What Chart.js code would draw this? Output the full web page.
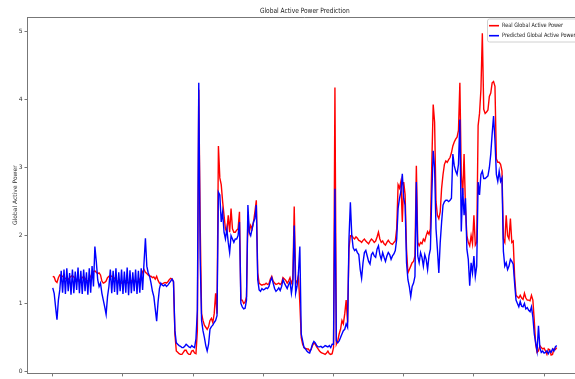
<!DOCTYPE html>
<html>
<head>
<meta charset="utf-8">
<title>Global Active Power Prediction</title>
<script src="https://cdn.jsdelivr.net/npm/chart.js@4.4.0/dist/chart.umd.min.js"></script>
<style>
html,body{margin:0;padding:0;background:#fff;overflow:hidden;}
#wrap{width:600px;height:379px;}
</style>
</head>
<body>
<div id="wrap"><canvas id="power-chart" width="600" height="379"></canvas></div>
<script>
/* ═══════════════════════════════════
   DATA (every 2nd sample of the test window)
═══════════════════════════════════ */
var sampleStep = 2;

var realPower = [
  1.40,1.39,1.33,1.31,1.38,1.42,1.41,1.40,1.38,1.37,
  1.36,1.35,1.38,1.40,1.41,1.39,1.37,1.35,1.33,1.34,
  1.36,1.38,1.40,1.37,1.34,1.33,1.36,1.40,1.44,1.47,
  1.48,1.46,1.44,1.45,1.42,1.33,1.30,1.31,1.33,1.38,
  1.40,1.41,1.40,1.39,1.37,1.35,1.33,1.31,1.30,1.30,
  1.32,1.34,1.33,1.31,1.30,1.31,1.33,1.35,1.34,1.32,
  1.31,1.33,1.36,1.40,1.47,1.50,1.46,1.44,1.42,1.40,
  1.40,1.38,1.39,1.36,1.40,1.34,1.30,1.28,1.29,1.30,
  1.31,1.30,1.32,1.35,1.37,1.36,1.32,
  0.55,0.30,0.28,0.26,0.25,0.25,0.28,0.31,0.31,0.27,0.25,0.25,0.30,0.31,0.27,0.26,
  0.60,4.15,2.20,0.85,0.75,0.68,0.65,0.62,0.66,0.75,0.78,0.72,0.85,1.15,0.85,3.32,
  2.85,2.75,2.50,2.30,2.10,2.05,2.30,2.05,2.40,2.10,2.05,2.05,2.08,2.10,2.35,
  1.05,1.05,1.00,1.02,1.10,2.30,2.05,2.15,2.10,2.20,2.35,2.52,1.45,
  1.30,1.28,1.27,1.28,1.28,1.30,1.28,1.29,1.36,1.40,1.33,1.30,1.28,1.29,1.30,1.28,
  1.30,1.38,1.36,1.34,1.30,1.33,1.38,1.30,1.35,
  2.43,1.35,1.30,1.40,1.00,0.50,
  0.40,0.35,0.34,0.33,0.33,0.30,0.32,0.38,0.42,0.40,0.36,0.33,0.30,0.28,0.27,0.26,
  0.25,0.27,0.30,0.26,0.25,0.26,
  0.35,4.18,0.40,0.45,0.55,0.62,0.75,0.70,0.85,1.05,0.72,1.81,2.00,
  2.00,1.97,1.95,1.98,1.96,1.93,1.92,1.90,1.93,1.95,1.92,1.90,1.88,1.92,1.95,1.93,
  1.90,1.92,1.98,2.05,1.95,1.90,1.92,1.88,1.86,1.90,1.93,1.90,1.88,1.87,1.90,1.92,
  2.10,2.75,2.70,2.80,2.20,2.79,2.60,1.80,1.45,1.50,1.55,1.60,1.62,1.70,3.03,1.90,
  1.85,1.90,1.88,1.95,1.92,2.00,2.06,2.02,
  2.10,3.05,3.93,3.67,2.50,2.30,2.25,2.35,2.70,
  2.90,3.05,3.10,3.08,3.12,3.15,3.22,
  3.32,3.38,3.42,3.45,3.55,4.25,2.90,2.60,3.20,2.40,2.00,1.90,
  1.85,2.00,1.88,2.30,1.86,1.90,
  3.62,3.80,4.15,4.98,3.86,3.80,3.82,3.85,4.05,4.10,4.25,4.27,4.20,3.13,3.08,3.08,
  3.05,2.95,1.95,
  1.90,2.30,2.00,1.95,2.25,1.90,1.92,
  1.40,1.12,
  1.10,1.08,1.12,1.08,1.06,1.15,1.08,1.05,1.05,1.04,1.12,1.05,
  0.75,0.40,0.28,0.30,0.38,
  0.35,0.33,0.34,0.30,0.25,0.33,0.32,0.24,0.25,0.33,0.32,0.35
];

var predictedPower = [
  1.23,1.15,0.95,0.76,1.05,1.20,
  1.48,1.16,1.50,1.14,1.52,1.18,1.45,1.13,1.50,1.15,1.47,1.20,
  1.53,1.15,1.48,1.14,1.50,1.18,1.46,1.13,1.52,1.16,1.55,1.25,
  1.84,1.62,1.35,1.25,1.30,1.15,1.05,0.95,0.84,1.10,1.25,
  1.50,1.15,1.48,1.17,1.52,1.13,1.46,1.18,1.50,1.14,1.47,1.16,1.53,
  1.12,1.49,1.15,1.46,1.18,1.50,1.14,1.48,1.16,1.52,1.20,1.60,
  1.96,1.55,1.45,1.40,1.30,1.18,1.10,0.92,0.74,1.02,1.22,
  1.30,1.27,1.26,1.28,1.25,1.27,1.30,1.33,1.36,1.32,
  0.60,0.42,0.40,0.38,0.37,0.35,0.35,0.37,0.40,0.38,0.36,0.35,0.38,0.36,0.35,0.48,
  0.90,4.25,1.67,0.75,0.60,0.50,0.38,0.30,0.40,0.62,0.66,0.68,0.72,0.75,0.82,2.64,
  2.60,2.20,2.35,2.05,1.95,2.10,1.90,1.75,2.00,1.95,1.90,1.95,1.95,2.00,2.20,
  1.00,0.95,0.92,0.93,1.05,2.45,2.05,2.00,2.10,2.20,2.25,2.45,1.35,
  1.20,1.18,1.22,1.20,1.21,1.23,1.22,1.25,1.33,1.38,1.30,1.22,1.18,1.20,1.23,1.19,
  1.25,1.35,1.30,1.26,1.22,1.28,1.32,1.15,1.30,
  2.15,1.15,1.25,1.45,1.84,0.55,
  0.45,0.35,0.33,0.30,0.28,0.27,0.33,0.40,0.44,0.42,0.38,0.36,0.36,0.37,0.35,0.36,
  0.38,0.37,0.36,0.38,0.35,0.40,
  0.40,2.69,0.45,0.42,0.45,0.50,0.55,0.60,0.62,0.70,0.65,1.95,2.49,
  2.00,1.82,1.78,1.80,1.75,1.72,1.50,1.37,1.60,1.75,1.78,1.70,1.62,1.58,1.72,1.75,
  1.70,1.68,1.80,1.85,1.72,1.65,1.75,1.68,1.62,1.70,1.75,1.72,1.65,1.70,1.73,1.78,
  1.95,2.40,2.55,2.65,2.91,2.55,2.45,1.60,1.35,1.25,1.10,1.25,1.30,1.40,2.79,1.70,
  1.60,1.75,1.68,1.55,1.72,1.65,1.50,1.70,
  1.80,2.60,3.25,3.00,2.10,1.80,1.45,1.90,2.20,
  2.45,2.50,2.52,2.52,2.50,2.52,2.55,
  3.20,3.03,2.95,2.90,3.05,3.71,2.06,2.70,2.30,2.55,1.80,1.65,
  1.26,1.60,1.45,1.70,1.40,1.55,
  2.79,2.60,2.90,2.95,2.84,2.84,2.86,2.88,3.00,3.20,3.50,3.76,3.40,2.90,2.80,2.95,
  2.80,2.85,1.77,
  1.55,1.60,1.50,1.55,1.65,1.62,1.58,
  1.30,1.05,
  1.00,0.95,1.03,0.96,0.95,1.00,0.92,0.94,0.90,0.88,0.95,0.80,
  0.55,0.42,0.30,0.67,0.35,
  0.28,0.30,0.27,0.28,0.30,0.26,0.30,0.28,0.33,0.30,0.36,0.38
];

var xTickValues = [0,100,200,300,400,500,600,700];
var yTickValues = [0,1,2,3,4,5];
var yTickLabels = ['0','1','2','3','4','5'];

var chartTitle = 'Global Active Power Prediction';
var yAxisTitle = 'Global Active Power';
var seriesNames = ['Real Global Active Power','Predicted Global Active Power'];
var seriesColors = ['#ff0000','#0000ff'];

/* ═══════════════════════════════════
   CHART
═══════════════════════════════════ */

// the source picture is a little squeezed sideways, text too
var textSqueeze = 0.82;
var fontFamily = '"DejaVu Sans", sans-serif';

document.addEventListener('DOMContentLoaded', function(){
  buildPowerChart();
});

function toPoints(values){
  return values.map(function(v, i){ return {x: i*sampleStep, y: v}; });
}

function squeezedText(ctx, text, x, y, size, align, color){
  ctx.save();
  ctx.font = size+'px '+fontFamily;
  ctx.fillStyle = color;
  ctx.textAlign = align;
  ctx.textBaseline = 'middle';
  ctx.translate(x, y);
  ctx.scale(textSqueeze, 1);
  ctx.fillText(text, 0, 0);
  ctx.restore();
}

// matplotlib-ish frame: top/right spines, title and the legend inside the axes
var mplFrame = {
  id: 'mplFrame',
  afterDraw: function(chart){
    var ctx = chart.ctx, a = chart.chartArea;
    ctx.save();
    ctx.strokeStyle = '#777';
    ctx.lineWidth = 1;
    ctx.beginPath();
    ctx.moveTo(a.left, a.top+0.5);
    ctx.lineTo(a.right-0.5, a.top+0.5);
    ctx.lineTo(a.right-0.5, a.bottom);
    ctx.stroke();

    squeezedText(ctx, chartTitle, (a.left+a.right)/2, 11, 7.2, 'center', '#222');

    var bx = a.right-95, by = a.top+1.5, bw = 91, bh = 23;
    ctx.fillStyle = 'rgba(255,255,255,0.8)';
    ctx.strokeStyle = '#d0d0d0';
    ctx.beginPath();
    ctx.roundRect(bx+0.5, by+0.5, bw, bh, 2);
    ctx.fill();
    ctx.stroke();
    for(var i=0;i<seriesNames.length;i++){
      var ly = by+7.2+i*10;
      ctx.strokeStyle = seriesColors[i];
      ctx.lineWidth = 1.6;
      ctx.beginPath();
      ctx.moveTo(bx+2, ly);
      ctx.lineTo(bx+12, ly);
      ctx.stroke();
      squeezedText(ctx, seriesNames[i], bx+15, ly, 6, 'left', '#222');
    }
    ctx.restore();
  }
};

function buildPowerChart(){
  var ctx = document.getElementById('power-chart');
  if(!ctx || ctx._ch) return;
  ctx._ch = new Chart(ctx, {
    type:'line',
    data:{
      datasets:[{
        label:seriesNames[0],
        data:toPoints(realPower),
        borderColor:seriesColors[0],
        borderWidth:1.4,
        order:2
      },{
        label:seriesNames[1],
        data:toPoints(predictedPower),
        borderColor:seriesColors[1],
        borderWidth:1.4,
        order:1
      }]
    },
    options:{
      responsive:false,
      animation:false,
      devicePixelRatio:1,
      parsing:false,
      layout:{padding:{top:17,right:18,left:0,bottom:0}},
      elements:{point:{radius:0},line:{tension:0}},
      plugins:{
        legend:{display:false},
        title:{display:false},
        tooltip:{enabled:false}
      },
      scales:{
        x:{
          type:'linear',
          min:-36,
          max:754,
          afterBuildTicks:function(s){ s.ticks = xTickValues.map(function(v){return {value:v};}); },
          afterFit:function(s){ s.height = 3; },
          ticks:{display:false},
          grid:{drawOnChartArea:false,tickLength:3,color:'#777'},
          border:{color:'#777',width:1}
        },
        y:{
          min:-0.03,
          max:5.22,
          afterBuildTicks:function(s){ s.ticks = yTickValues.map(function(v){return {value:v};}); },
          afterFit:function(s){ s.width = 27.5; },
          ticks:{
            padding:2,
            color:'#333',
            font:{family:fontFamily,size:6},
            callback:function(v){ var i = yTickValues.indexOf(v); return i<0 ? '' : yTickLabels[i]; }
          },
          grid:{drawOnChartArea:false,tickLength:3,color:'#777'},
          border:{color:'#777',width:1},
          title:{
            display:true,
            text:yAxisTitle,
            color:'#333',
            font:{family:fontFamily,size:6},
            padding:{top:11.4,bottom:0}
          }
        }
      }
    },
    plugins:[mplFrame]
  });
}
</script>
</body>
</html>
